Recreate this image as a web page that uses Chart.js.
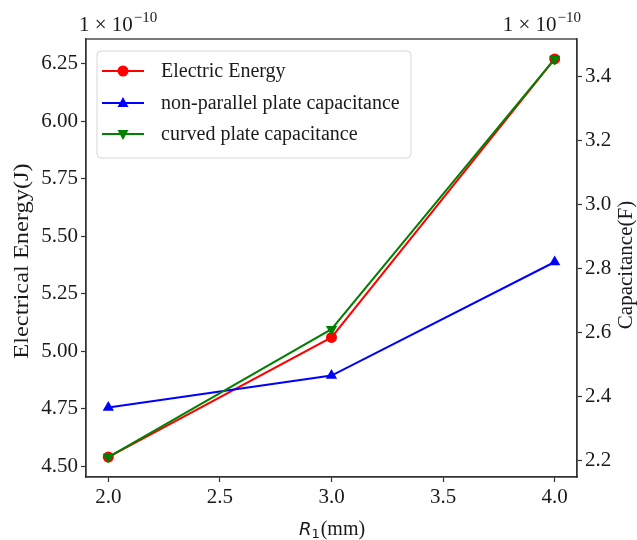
<!DOCTYPE html>
<html lang="en">
<head>
    <meta charset="UTF-8">
    <title>R1 vs energy and capacitance</title>
    <script src="https://cdn.jsdelivr.net/npm/chart.js"></script>
    <style>
        html, body { margin: 0; padding: 0; background: #ffffff; }
        #wrap { width: 637px; height: 540px; }
    </style>
</head>
<body>
    <div id="wrap"><canvas id="energyChart" width="637" height="540"></canvas></div>
    <script>
        // values in units of 1e-10 (J and F)
        const R1_MM = [2.0, 3.0, 4.0];
        const ENERGY = [4.54, 5.06, 6.27];
        const CAP_NONPARALLEL = [2.365, 2.465, 2.82];
        const CAP_CURVED = [2.21, 2.61, 3.455];

        const X_TICKS = [2.0, 2.5, 3.0, 3.5, 4.0];
        const ENERGY_TICKS = [4.50, 4.75, 5.00, 5.25, 5.50, 5.75, 6.00, 6.25];
        const CAP_TICKS = [2.2, 2.4, 2.6, 2.8, 3.0, 3.2, 3.4];

        const LABELS = ["Electric Energy", "non-parallel plate capacitance", "curved plate capacitance"];

        const SERIF = "'Liberation Serif', 'Times New Roman', serif";
        const INK = "#1a1a1a";
        const SPINE = "#333333";

        // 5% margin around the data, like matplotlib autoscale
        function limits(values) {
            let lo = Math.min(...values), hi = Math.max(...values);
            let m = (hi - lo) * 0.05;
            return [lo - m, hi + m];
        }
        const eLim = limits(ENERGY);
        const cLim = limits(CAP_NONPARALLEL.concat(CAP_CURVED));

        function points(ys) {
            return R1_MM.map((x, i) => ({ x: x, y: ys[i] }));
        }

        function axisStyle(tickList, digits, fitSize) {
            return {
                afterBuildTicks: s => { s.ticks = tickList.map(v => ({ value: v })); },
                afterFit: fitSize,
                ticks: {
                    autoSkip: false,
                    color: INK,
                    padding: 3,
                    font: { family: SERIF, size: 21 },
                    callback: v => Number(v).toFixed(digits)
                },
                grid: { drawOnChartArea: false, drawTicks: true, tickLength: 5, tickColor: SPINE, tickWidth: 1.2 },
                border: { display: true, color: SPINE, width: 1.3 }
            };
        }

        // mathtext-like "1×10^-10" multiplier
        function drawOffset(ctx, x, baseline, alignRight) {
            ctx.font = "21px " + SERIF;
            let main = "1 \u00D7 10";
            let w1 = ctx.measureText(main).width;
            ctx.font = "15px " + SERIF;
            let sup = "\u221210";
            let w2 = ctx.measureText(sup).width;
            let start = alignRight ? x - w1 - w2 - 1 : x;
            ctx.fillStyle = INK;
            ctx.textAlign = "left";
            ctx.textBaseline = "alphabetic";
            ctx.font = "21px " + SERIF;
            ctx.fillText(main, start, baseline);
            ctx.font = "15px " + SERIF;
            ctx.fillText(sup, start + w1 + 1, baseline - 9);
        }

        function drawMarker(ctx, style, x, y, color) {
            ctx.fillStyle = color;
            ctx.beginPath();
            if (style === "circle") {
                ctx.arc(x, y, 5.5, 0, Math.PI * 2);
            } else {
                let d = style === "triangle" ? -1 : 1;
                ctx.moveTo(x, y + d * 6);
                ctx.lineTo(x - 5.5, y - d * 4);
                ctx.lineTo(x + 5.5, y - d * 4);
                ctx.closePath();
            }
            ctx.fill();
        }

        // rotated y title, stretched along its length
        function verticalTitle(ctx, text, x, y, size, stretch) {
            ctx.save();
            ctx.translate(x, y);
            ctx.rotate(-Math.PI / 2);
            ctx.scale(stretch, 1);
            ctx.font = size + "px " + SERIF;
            ctx.textAlign = "center";
            ctx.textBaseline = "middle";
            ctx.fillStyle = INK;
            ctx.fillText(text, 0, 0);
            ctx.restore();
        }

        const decorations = {
            id: "decorations",
            afterDraw(chart) {
                const ctx = chart.ctx;
                const a = chart.chartArea;
                ctx.save();

                // frame
                ctx.strokeStyle = SPINE;
                ctx.lineWidth = 1.3;
                ctx.strokeRect(a.left, a.top, a.right - a.left, a.bottom - a.top);

                // legend
                let bx = 97, by = 51, bw = 314, bh = 107, r = 4;
                ctx.beginPath();
                ctx.moveTo(bx + r, by);
                ctx.arcTo(bx + bw, by, bx + bw, by + bh, r);
                ctx.arcTo(bx + bw, by + bh, bx, by + bh, r);
                ctx.arcTo(bx, by + bh, bx, by, r);
                ctx.arcTo(bx, by, bx + bw, by, r);
                ctx.closePath();
                ctx.fillStyle = "rgba(255,255,255,0.85)";
                ctx.fill();
                ctx.strokeStyle = "#d6d6d6";
                ctx.lineWidth = 1;
                ctx.stroke();

                const rows = [71, 103, 134];
                chart.data.datasets.forEach((ds, i) => {
                    let y = rows[i];
                    ctx.strokeStyle = ds.borderColor;
                    ctx.lineWidth = 2;
                    ctx.beginPath();
                    ctx.moveTo(102, y);
                    ctx.lineTo(144, y);
                    ctx.stroke();
                    drawMarker(ctx, ds.legendMarker, 123, y, ds.borderColor);
                    ctx.fillStyle = INK;
                    ctx.font = "20px " + SERIF;
                    ctx.textAlign = "left";
                    ctx.textBaseline = "middle";
                    ctx.fillText(ds.label, 161, y + 1);
                });

                // axis titles
                verticalTitle(ctx, "Electrical Energy(J)", 23, 261, 20, 1.22);
                verticalTitle(ctx, "Capacitance(F)", 627, 265, 20, 1.05);

                // x title: italic R with subscript 1, then (mm)
                ctx.fillStyle = INK;
                ctx.textAlign = "left";
                ctx.textBaseline = "alphabetic";
                let base = 535;
                ctx.font = "italic 18px 'DejaVu Sans'";
                let wR = ctx.measureText("R").width;
                ctx.font = "13px 'DejaVu Sans'";
                let w1 = ctx.measureText("1").width;
                ctx.font = "20px " + SERIF;
                let wMm = ctx.measureText("(mm)").width;
                let x0 = (a.left + a.right) / 2 - (wR + w1 + wMm) / 2;
                ctx.font = "italic 18px 'DejaVu Sans'";
                ctx.fillText("R", x0, base);
                ctx.font = "13px 'DejaVu Sans'";
                ctx.fillText("1", x0 + wR, base + 3);
                ctx.font = "20px " + SERIF;
                ctx.fillText("(mm)", x0 + wR + w1 + 1, base);

                // multipliers above both y axes
                drawOffset(ctx, 79, 31, false);
                drawOffset(ctx, 581, 31, true);

                ctx.restore();
            }
        };

        const ctx = document.getElementById("energyChart").getContext("2d");
        new Chart(ctx, {
            type: "line",
            data: {
                datasets: [
                    {
                        label: LABELS[0],
                        data: points(ENERGY),
                        yAxisID: "yE",
                        borderColor: "#ff0000",
                        backgroundColor: "#ff0000",
                        pointStyle: "circle",
                        pointRadius: 5.5,
                        legendMarker: "circle",
                        order: 2
                    },
                    {
                        label: LABELS[1],
                        data: points(CAP_NONPARALLEL),
                        yAxisID: "yC",
                        borderColor: "#0000ff",
                        backgroundColor: "#0000ff",
                        pointStyle: "triangle",
                        pointRadius: 6.5,
                        legendMarker: "triangle",
                        order: 1
                    },
                    {
                        label: LABELS[2],
                        data: points(CAP_CURVED),
                        yAxisID: "yC",
                        borderColor: "#008000",
                        backgroundColor: "#008000",
                        pointStyle: "triangle",
                        pointRotation: 180,
                        pointRadius: 6.5,
                        legendMarker: "triangleDown",
                        order: 0
                    }
                ]
            },
            options: {
                responsive: false,
                animation: false,
                devicePixelRatio: 1,
                layout: { padding: { top: 39, left: 0, right: 0, bottom: 0 } },
                elements: {
                    line: { borderWidth: 2, tension: 0 },
                    point: { borderWidth: 0, hoverRadius: 5 }
                },
                plugins: {
                    legend: { display: false },
                    tooltip: { enabled: false }
                },
                scales: {
                    x: Object.assign(axisStyle(X_TICKS, 1, s => { s.height = 63; }), {
                        type: "linear", min: 1.9, max: 4.1
                    }),
                    yE: Object.assign(axisStyle(ENERGY_TICKS, 2, s => { s.width = 86; }), {
                        type: "linear", position: "left", min: eLim[0], max: eLim[1]
                    }),
                    yC: Object.assign(axisStyle(CAP_TICKS, 1, s => { s.width = 60; }), {
                        type: "linear", position: "right", min: cLim[0], max: cLim[1]
                    })
                }
            },
            plugins: [decorations]
        });
    </script>
</body>
</html>
